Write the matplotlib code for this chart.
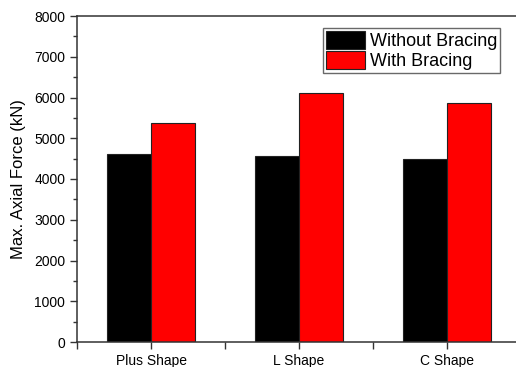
import numpy as np
import matplotlib.pyplot as plt
from matplotlib.ticker import MultipleLocator, FixedLocator

# ------------------------------------------------------------
#  data
# ------------------------------------------------------------
categories = ['Plus Shape', 'L Shape', 'C Shape']
without_bracing = [4620, 4565, 4485]
with_bracing = [5370, 6120, 5860]
series_labels = ['Without Bracing', 'With Bracing']

plt.rcParams['font.family'] = ['Liberation Sans', 'DejaVu Sans']

fig = plt.figure(figsize=(5.16, 3.67), dpi=100)
# the axes run to the image border; the right spine is cut off in the reference
ax = fig.add_axes([77 / 516, 1 - 342 / 367, 439 / 516, 326 / 367])

x = np.arange(1, len(categories) + 1)
w = 0.3
ax.bar(x - w / 2, without_bracing, w, color='black', edgecolor='#222222',
       linewidth=0.8, label=series_labels[0])
ax.bar(x + w / 2, with_bracing, w, color='#ff0000', edgecolor='#222222',
       linewidth=0.8, label=series_labels[1])

ax.set_xlim(0.5, 0.5 + 439 / 148)
ax.set_ylim(0, 8000)
ax.spines['right'].set_visible(False)
ax.set_xticks(x)
ax.set_xticklabels(categories, fontsize=10)
ax.xaxis.set_minor_locator(FixedLocator([0.5, 1.5, 2.5]))
ax.yaxis.set_major_locator(MultipleLocator(1000))
ax.yaxis.set_minor_locator(MultipleLocator(500))
ax.tick_params(axis='y', labelsize=10)
ax.tick_params(which='major', direction='out', length=5, width=1, color='#333333')
ax.tick_params(which='minor', direction='out', length=3, width=1, color='#333333')
ax.tick_params(axis='x', which='minor', length=5)

for s in ax.spines.values():
    s.set_linewidth(1.1)
    s.set_color('#333333')

ax.set_ylabel('Max. Axial Force (kN)', fontsize=12, labelpad=6)

leg = ax.legend(loc='upper left', bbox_to_anchor=(246 / 439, 1 - 12 / 326),
                fontsize=13, frameon=True, fancybox=False, edgecolor='#444444',
                borderpad=0.15, handlelength=2.2, handleheight=1.15,
                handletextpad=0.25, labelspacing=0.06, borderaxespad=0)
leg.get_frame().set_linewidth(1.0)

fig.savefig('out.png', dpi=100)
